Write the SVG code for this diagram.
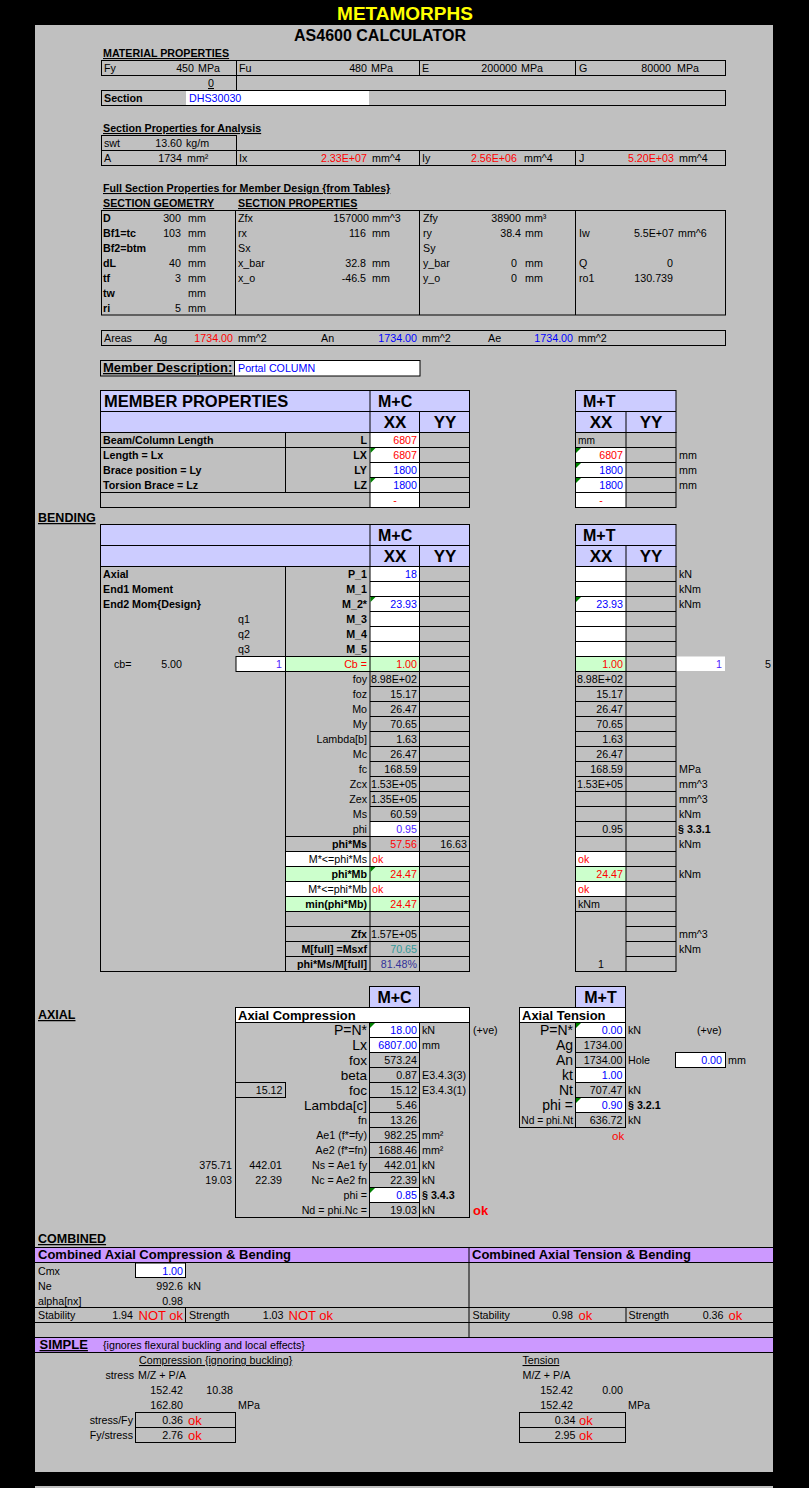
<svg xmlns="http://www.w3.org/2000/svg" width="809" height="1488" viewBox="0 0 809 1488">
<style>
.t{font-family:"Liberation Sans",Arial,sans-serif;font-size:10.7px;fill:#000}
.b{font-weight:bold}
.e{text-anchor:end}
.c{text-anchor:middle}
.u{text-decoration:underline}
.rd{fill:#f00}
.bl{fill:#00f}
.pu{fill:#4a1aff}
.hd{font-size:16px;font-weight:bold}
.lg{font-size:13.5px}
.ok{font-size:13px;fill:#f00}
.sm{font-size:10.2px}
.ln{stroke:#000;stroke-width:1;fill:none}
.bx{stroke:#000;stroke-width:1}
.nf{fill:none}
.lav{fill:#CCCCFF}
.grn{fill:#CCFFCC}
.wht{fill:#fff}
.pur{fill:#CC99FF}
</style>
<defs><path id="tri" d="M0 0h5L0 5z" fill="#008000"/></defs>
<rect width="809" height="1488" fill="#000"/>
<rect x="35" y="25" width="738" height="1447" fill="#C0C0C0"/>
<rect x="35" y="1486" width="738" height="2" fill="#C0C0C0"/>
<g id="title">
<text x="405" y="20" class="t b c" style="font-size:19px;fill:#FFFF00">METAMORPHS</text>
<text x="380" y="41" class="t b c" style="font-size:16px">AS4600 CALCULATOR</text>
</g>

<g id="material">
<rect x="101.5" y="60.5" width="624" height="15" class="bx nf"/>
<rect x="101.5" y="90.5" width="624" height="15" class="bx nf"/>
<rect x="186" y="91" width="183" height="14" class="wht"/>
<path class="ln" d="M236.5 60.5V90.5M419.5 60.5V75.5M575.5 60.5V75.5"/>
<g class="t">
<text x="103" y="57" class="b u">MATERIAL PROPERTIES</text>
<text x="104" y="72">Fy</text><text x="194" y="72" class="e">450</text><text x="198" y="72">MPa</text>
<text x="239" y="72">Fu</text><text x="367" y="72" class="e">480</text><text x="371" y="72">MPa</text>
<text x="422" y="72">E</text><text x="517" y="72" class="e">200000</text><text x="521" y="72">MPa</text>
<text x="579" y="72">G</text><text x="671" y="72" class="e">80000</text><text x="677" y="72">MPa</text>
<text x="211" y="87" class="c u">0</text>
<text x="104" y="102" class="b">Section</text>
<text x="189" y="102" class="bl">DHS30030</text>
</g>
</g>

<g id="analysis">
<rect x="101.5" y="135.5" width="135" height="15" class="bx nf"/>
<rect x="101.5" y="150.5" width="624" height="15" class="bx nf"/>
<path class="ln" d="M236.5 150.5V165.5M419.5 150.5V165.5M575.5 150.5V165.5"/>
<g class="t">
<text x="103" y="132" class="b u">Section Properties for Analysis</text>
<text x="104" y="147">swt</text><text x="182" y="147" class="e">13.60</text><text x="186" y="147">kg/m</text>
<text x="104" y="162">A</text><text x="182" y="162" class="e">1734</text><text x="187" y="162">mm²</text>
<text x="239" y="162">Ix</text><text x="367" y="162" class="e rd">2.33E+07</text><text x="372" y="162">mm^4</text>
<text x="422" y="162">Iy</text><text x="517" y="162" class="e rd">2.56E+06</text><text x="524" y="162">mm^4</text>
<text x="579" y="162">J</text><text x="674" y="162" class="e rd">5.20E+03</text><text x="679" y="162">mm^4</text>
</g>
</g>

<g id="fullsection">
<rect x="101.5" y="210.5" width="624" height="104.5" class="bx nf"/>
<path class="ln" d="M235.5 210.5V315M419.5 210.5V315M575.5 210.5V315"/>
<g class="t">
<text x="103" y="192" class="b u">Full Section Properties for Member Design {from Tables}</text>
<text x="103" y="207" class="b u">SECTION GEOMETRY</text>
<text x="238" y="207" class="b u">SECTION PROPERTIES</text>
<g class="b">
<text x="103" y="222">D</text><text x="103" y="237">Bf1=tc</text><text x="103" y="252">Bf2=btm</text><text x="103" y="267">dL</text><text x="103" y="282">tf</text><text x="103" y="297">tw</text><text x="103" y="312">ri</text>
</g>
<text x="181" y="222" class="e">300</text><text x="181" y="237" class="e">103</text><text x="181" y="267" class="e">40</text><text x="181" y="282" class="e">3</text><text x="181" y="312" class="e">5</text>
<text x="188" y="222">mm</text><text x="188" y="237">mm</text><text x="188" y="252">mm</text><text x="188" y="267">mm</text><text x="188" y="282">mm</text><text x="188" y="297">mm</text><text x="188" y="312">mm</text>
<text x="238" y="222">Zfx</text><text x="369" y="222" class="e">157000</text><text x="372" y="222">mm^3</text>
<text x="238" y="237">rx</text><text x="366" y="237" class="e">116</text><text x="372" y="237">mm</text>
<text x="238" y="252">Sx</text>
<text x="238" y="267">x_bar</text><text x="366" y="267" class="e">32.8</text><text x="372" y="267">mm</text>
<text x="238" y="282">x_o</text><text x="366" y="282" class="e">-46.5</text><text x="372" y="282">mm</text>
<text x="423" y="222">Zfy</text><text x="521" y="222" class="e">38900</text><text x="525" y="222">mm³</text>
<text x="423" y="237">ry</text><text x="521" y="237" class="e">38.4</text><text x="525" y="237">mm</text>
<text x="423" y="252">Sy</text>
<text x="423" y="267">y_bar</text><text x="517" y="267" class="e">0</text><text x="525" y="267">mm</text>
<text x="423" y="282">y_o</text><text x="517" y="282" class="e">0</text><text x="525" y="282">mm</text>
<text x="579" y="237">Iw</text><text x="674" y="237" class="e">5.5E+07</text><text x="678" y="237">mm^6</text>
<text x="579" y="267">Q</text><text x="673" y="267" class="e">0</text>
<text x="579" y="282">ro1</text><text x="673" y="282" class="e">130.739</text>
</g>
</g>

<g id="areas">
<rect x="101.5" y="330.5" width="624" height="15" class="bx nf"/>
<g class="t">
<text x="104" y="342">Areas</text><text x="154" y="342">Ag</text><text x="233" y="342" class="e rd">1734.00</text><text x="238" y="342">mm^2</text>
<text x="321" y="342">An</text><text x="417" y="342" class="e bl">1734.00</text><text x="422" y="342">mm^2</text>
<text x="488" y="342">Ae</text><text x="573" y="342" class="e bl">1734.00</text><text x="578" y="342">mm^2</text>
</g>
</g>

<g id="memberdesc">
<rect x="235" y="361" width="185" height="15" class="wht"/>
<rect x="100.5" y="360.5" width="319.5" height="15.5" class="bx nf"/>
<path class="ln" d="M234.5 360.5V376"/>
<text x="103" y="372" class="t b u" style="font-size:13px">Member Description:</text>
<text x="238" y="372" class="t bl">Portal COLUMN</text>
</g>

<g id="memberprops">
<rect x="100.5" y="390.5" width="369" height="42" class="lav bx"/>
<rect x="575.5" y="390.5" width="100.5" height="42" class="lav bx"/>
<rect x="370" y="432.5" width="49.5" height="75" class="wht"/>
<rect x="576" y="447.5" width="50" height="60" class="wht"/>
<rect x="100.5" y="432.5" width="369" height="75" class="bx nf"/>
<rect x="575.5" y="432.5" width="100.5" height="75" class="bx nf"/>
<path class="ln" d="M100.5 411.5H469.5M370 390.5V507.5M419.5 411.5V507.5M575.5 411.5H676M626 411.5V507.5M100.5 447.5H469.5M100.5 492.5H469.5M370 462.5H469.5M370 477.5H469.5M285.5 432.5V492.5M575.5 447.5H676M575.5 462.5H676M575.5 477.5H676M575.5 492.5H676"/>
<use href="#tri" x="370.5" y="448"/><use href="#tri" x="370.5" y="478"/>
<use href="#tri" x="576" y="448"/><use href="#tri" x="576" y="463"/><use href="#tri" x="576" y="478"/>
<g class="t">
<text x="104" y="407" class="b" style="font-size:16.5px">MEMBER PROPERTIES</text>
<text x="378" y="407" class="hd">M+C</text>
<text x="395" y="428" class="hd c" style="font-size:17px">XX</text><text x="445" y="428" class="hd c" style="font-size:17px">YY</text>
<text x="583" y="407" class="hd">M+T</text>
<text x="601" y="428" class="hd c" style="font-size:17px">XX</text><text x="651" y="428" class="hd c" style="font-size:17px">YY</text>
<g class="b">
<text x="103" y="444">Beam/Column Length</text><text x="103" y="459">Length = Lx</text><text x="103" y="474">Brace position = Ly</text><text x="103" y="489">Torsion Brace = Lz</text>
<text x="367" y="444" class="e">L</text><text x="367" y="459" class="e">LX</text><text x="367" y="474" class="e">LY</text><text x="367" y="489" class="e">LZ</text>
</g>
<text x="417" y="444" class="e rd">6807</text><text x="417" y="459" class="e rd">6807</text><text x="417" y="474" class="e bl">1800</text><text x="417" y="489" class="e bl">1800</text>
<text x="395" y="504" class="c rd">-</text>
<text x="578" y="444" class="sm">mm</text>
<text x="623" y="459" class="e rd">6807</text><text x="623" y="474" class="e bl">1800</text><text x="623" y="489" class="e bl">1800</text>
<text x="601" y="504" class="c rd">-</text>
<text x="679" y="459">mm</text><text x="679" y="474">mm</text><text x="679" y="489">mm</text>
</g>
</g>

<g id="bending">
<text x="38" y="522" class="t b u" style="font-size:12.5px">BENDING</text>
<rect x="100.5" y="524.5" width="369" height="42" class="lav bx"/>
<rect x="575.5" y="524.5" width="100.5" height="42" class="lav bx"/>
<rect x="370" y="566.5" width="49.5" height="90" class="wht"/>
<rect x="285.5" y="656.5" width="134" height="15" class="grn"/>
<rect x="370" y="821.5" width="49.5" height="15" class="wht"/>
<rect x="285.5" y="851.5" width="134" height="15" class="wht"/>
<rect x="285.5" y="866.5" width="134" height="15" class="grn"/>
<rect x="285.5" y="881.5" width="134" height="15" class="wht"/>
<rect x="285.5" y="896.5" width="134" height="15" class="grn"/>
<rect x="236" y="656.5" width="49.5" height="15" class="wht bx"/>
<rect x="575.5" y="566.5" width="50.5" height="90" class="wht"/>
<rect x="575.5" y="656.5" width="50.5" height="15" class="grn"/>
<rect x="575.5" y="851.5" width="50.5" height="15" class="wht"/>
<rect x="575.5" y="866.5" width="50.5" height="15" class="grn"/>
<rect x="575.5" y="881.5" width="50.5" height="15" class="wht"/>
<rect x="676" y="656.5" width="49" height="14.5" class="wht"/>
<rect x="100.5" y="566.5" width="369" height="405" class="bx nf"/>
<rect x="575.5" y="566.5" width="100.5" height="405" class="bx nf"/>
<path class="ln" d="M100.5 545.5H469.5M370 524.5V971.5M419.5 545.5V971.5M575.5 545.5H676M626 545.5V971.5M285.5 566.5V971.5M236 656.5H370M236 671.5H370
M370 581.5H469.5M370 596.5H469.5M370 611.5H469.5M370 626.5H469.5M370 641.5H469.5M370 656.5H469.5M370 671.5H469.5M370 686.5H469.5M370 701.5H469.5M370 716.5H469.5M370 731.5H469.5M370 746.5H469.5M370 761.5H469.5M370 776.5H469.5M370 791.5H469.5M370 806.5H469.5M370 821.5H469.5
M285.5 836.5H469.5M285.5 851.5H469.5M285.5 866.5H469.5M285.5 881.5H469.5M285.5 896.5H469.5M285.5 911.5H469.5M285.5 926.5H469.5M285.5 941.5H469.5M285.5 956.5H469.5
M575.5 581.5H676M575.5 596.5H676M575.5 611.5H676M575.5 626.5H676M575.5 641.5H676M575.5 656.5H676M575.5 671.5H676M575.5 686.5H676M575.5 701.5H676M575.5 716.5H676M575.5 731.5H676M575.5 746.5H676M575.5 761.5H676M575.5 776.5H676M575.5 791.5H676M575.5 806.5H676M575.5 821.5H676M575.5 836.5H676M575.5 851.5H676M575.5 866.5H676M575.5 881.5H676M575.5 896.5H676M575.5 911.5H676
M626 926.5H676M626 941.5H676M626 956.5H676"/>
<use href="#tri" x="370.5" y="597"/><use href="#tri" x="576" y="597"/><use href="#tri" x="370.5" y="867"/>
<g class="t">
<text x="378" y="541" class="hd">M+C</text>
<text x="395" y="562" class="hd c" style="font-size:17px">XX</text><text x="445" y="562" class="hd c" style="font-size:17px">YY</text>
<text x="583" y="541" class="hd">M+T</text>
<text x="601" y="562" class="hd c" style="font-size:17px">XX</text><text x="651" y="562" class="hd c" style="font-size:17px">YY</text>
<g class="b">
<text x="103" y="578">Axial</text><text x="103" y="593">End1 Moment</text><text x="103" y="608">End2 Mom{Design}</text>
<text x="367" y="578" class="e">P_1</text><text x="367" y="593" class="e">M_1</text><text x="367" y="608" class="e">M_2*</text>
<text x="367" y="623" class="e">M_3</text><text x="367" y="638" class="e">M_4</text><text x="367" y="653" class="e">M_5</text>
</g>
<text x="238" y="623">q1</text><text x="238" y="638">q2</text><text x="238" y="653">q3</text>
<text x="417" y="578" class="e bl">18</text>
<text x="417" y="608" class="e bl">23.93</text>
<text x="623" y="608" class="e bl">23.93</text>
<text x="679" y="578">kN</text><text x="679" y="593">kNm</text><text x="679" y="608">kNm</text>
<text x="114" y="668">cb=</text><text x="182" y="668" class="e">5.00</text>
<text x="282" y="668" class="e pu">1</text>
<text x="367" y="668" class="e rd">Cb =</text><text x="417" y="668" class="e rd">1.00</text>
<text x="623" y="668" class="e rd">1.00</text>
<text x="722" y="668" class="e pu">1</text><text x="771" y="668" class="e">5</text>
<text x="367" y="683" class="e">foy</text><text x="417" y="683" class="e">8.98E+02</text><text x="623" y="683" class="e">8.98E+02</text>
<text x="367" y="698" class="e">foz</text><text x="417" y="698" class="e">15.17</text><text x="623" y="698" class="e">15.17</text>
<text x="367" y="713" class="e">Mo</text><text x="417" y="713" class="e">26.47</text><text x="623" y="713" class="e">26.47</text>
<text x="367" y="728" class="e">My</text><text x="417" y="728" class="e">70.65</text><text x="623" y="728" class="e">70.65</text>
<text x="367" y="743" class="e">Lambda[b]</text><text x="417" y="743" class="e">1.63</text><text x="623" y="743" class="e">1.63</text>
<text x="367" y="758" class="e">Mc</text><text x="417" y="758" class="e">26.47</text><text x="623" y="758" class="e">26.47</text>
<text x="367" y="773" class="e">fc</text><text x="417" y="773" class="e">168.59</text><text x="623" y="773" class="e">168.59</text><text x="679" y="773">MPa</text>
<text x="367" y="788" class="e">Zcx</text><text x="417" y="788" class="e">1.53E+05</text><text x="623" y="788" class="e">1.53E+05</text><text x="679" y="788">mm^3</text>
<text x="367" y="803" class="e">Zex</text><text x="417" y="803" class="e">1.35E+05</text><text x="679" y="803">mm^3</text>
<text x="367" y="818" class="e">Ms</text><text x="417" y="818" class="e">60.59</text><text x="679" y="818">kNm</text>
<text x="367" y="833" class="e">phi</text><text x="417" y="833" class="e pu">0.95</text><text x="623" y="833" class="e">0.95</text><text x="678" y="833" class="b">§ 3.3.1</text>
<text x="367" y="848" class="e b">phi*Ms</text><text x="417" y="848" class="e rd">57.56</text><text x="467" y="848" class="e">16.63</text><text x="679" y="848">kNm</text>
<text x="367" y="863" class="e">M*&lt;=phi*Ms</text><text x="372" y="863" class="rd">ok</text><text x="578" y="863" class="rd">ok</text>
<text x="367" y="878" class="e b">phi*Mb</text><text x="417" y="878" class="e rd">24.47</text><text x="623" y="878" class="e rd">24.47</text><text x="679" y="878">kNm</text>
<text x="367" y="893" class="e">M*&lt;=phi*Mb</text><text x="372" y="893" class="rd">ok</text><text x="578" y="893" class="rd">ok</text>
<text x="367" y="908" class="e b">min(phi*Mb)</text><text x="417" y="908" class="e rd">24.47</text><text x="578" y="908">kNm</text>
<text x="367" y="938" class="e b">Zfx</text><text x="417" y="938" class="e">1.57E+05</text><text x="679" y="938">mm^3</text>
<text x="367" y="953" class="e b">M[full] =Msxf</text><text x="417" y="953" class="e" style="fill:#339999">70.65</text><text x="679" y="953">kNm</text>
<text x="367" y="968" class="e b">phi*Ms/M[full]</text><text x="417" y="968" class="e" style="fill:#333399">81.48%</text><text x="601" y="968" class="c">1</text>
</g>
</g>

<g id="axial-compression">
<text x="38" y="1019" class="t b u" style="font-size:12.5px">AXIAL</text>
<rect x="369.5" y="986.5" width="50" height="21" class="lav bx"/>
<rect x="235.5" y="1007.5" width="234" height="15" class="wht bx"/>
<rect x="370" y="1022.5" width="49.5" height="30" class="wht"/>
<rect x="370" y="1187.5" width="49.5" height="15" class="wht"/>
<rect x="235.5" y="1022.5" width="234" height="195" class="bx nf"/>
<rect x="235.5" y="1082.5" width="50" height="15" class="bx nf"/>
<path class="ln" d="M369.5 1022.5V1217.5M419.5 1022.5V1217.5M369.5 1037.5H419.5M369.5 1052.5H419.5M369.5 1067.5H419.5M369.5 1082.5H419.5M369.5 1097.5H419.5M369.5 1112.5H419.5M369.5 1127.5H419.5M369.5 1142.5H419.5M369.5 1157.5H419.5M369.5 1172.5H419.5M369.5 1187.5H419.5M369.5 1202.5H419.5"/>
<use href="#tri" x="370" y="1023"/><use href="#tri" x="370" y="1188"/>
<g class="t">
<text x="394.5" y="1003" class="hd c">M+C</text>
<text x="238" y="1019.5" class="b" style="font-size:13px">Axial Compression</text>
<text x="367" y="1035" class="e" style="font-size:14px">P=N*</text>
<text x="367" y="1050" class="e" style="font-size:14px">Lx</text>
<text x="367" y="1065" class="e lg">fox</text>
<text x="367" y="1080" class="e lg">beta</text>
<text x="367" y="1095" class="e lg">foc</text>
<text x="367" y="1110" class="e lg">Lambda[c]</text>
<text x="367" y="1124" class="e">fn</text>
<text x="367" y="1139" class="e">Ae1 (f*=fy)</text>
<text x="367" y="1154" class="e">Ae2 (f*=fn)</text>
<text x="367" y="1169" class="e">Ns = Ae1 fy</text>
<text x="367" y="1184" class="e">Nc = Ae2 fn</text>
<text x="367" y="1199" class="e">phi =</text>
<text x="367" y="1214" class="e">Nd = phi.Nc =</text>
<text x="417" y="1034" class="e bl">18.00</text>
<text x="417" y="1049" class="e bl">6807.00</text>
<text x="417" y="1064" class="e">573.24</text>
<text x="417" y="1079" class="e">0.87</text>
<text x="417" y="1094" class="e">15.12</text>
<text x="417" y="1109" class="e">5.46</text>
<text x="417" y="1124" class="e">13.26</text>
<text x="417" y="1139" class="e">982.25</text>
<text x="417" y="1154" class="e">1688.46</text>
<text x="417" y="1169" class="e">442.01</text>
<text x="417" y="1184" class="e">22.39</text>
<text x="417" y="1199" class="e bl">0.85</text>
<text x="417" y="1214" class="e">19.03</text>
<text x="422" y="1034">kN</text><text x="422" y="1049">mm</text>
<text x="422" y="1079">E3.4.3(3)</text><text x="422" y="1094">E3.4.3(1)</text>
<text x="422" y="1139">mm²</text><text x="422" y="1154">mm²</text>
<text x="422" y="1169">kN</text><text x="422" y="1184">kN</text>
<text x="422" y="1199" class="b">§ 3.4.3</text><text x="422" y="1214">kN</text>
<text x="473" y="1034">(+ve)</text>
<text x="473" y="1215" class="b ok">ok</text>
<text x="282.5" y="1094" class="e">15.12</text>
<text x="232" y="1169" class="e">375.71</text><text x="282" y="1169" class="e">442.01</text>
<text x="232" y="1184" class="e">19.03</text><text x="282" y="1184" class="e">22.39</text>
</g>
</g>

<g id="axial-tension">
<rect x="575.5" y="986.5" width="50" height="21" class="lav bx"/>
<rect x="519.5" y="1007.5" width="106" height="15" class="wht bx"/>
<rect x="576" y="1022.5" width="49.5" height="15" class="wht"/>
<rect x="576" y="1067.5" width="49.5" height="15" class="wht"/>
<rect x="576" y="1097.5" width="49.5" height="15" class="wht"/>
<rect x="519.5" y="1022.5" width="106" height="105" class="bx nf"/>
<rect x="675.5" y="1052.5" width="50" height="15" class="wht bx"/>
<path class="ln" d="M575.5 1022.5V1127.5M575.5 1037.5H625.5M575.5 1052.5H625.5M575.5 1067.5H625.5M575.5 1082.5H625.5M575.5 1097.5H625.5M575.5 1112.5H625.5"/>
<use href="#tri" x="576" y="1023"/><use href="#tri" x="576" y="1098"/>
<g class="t">
<text x="600.5" y="1003" class="hd c">M+T</text>
<text x="522" y="1019.5" class="b" style="font-size:13px">Axial Tension</text>
<text x="573" y="1035" class="e" style="font-size:14px">P=N*</text>
<text x="573" y="1050" class="e" style="font-size:14px">Ag</text>
<text x="573" y="1065" class="e" style="font-size:14px">An</text>
<text x="573" y="1080" class="e" style="font-size:14px">kt</text>
<text x="573" y="1095" class="e" style="font-size:14px">Nt</text>
<text x="573" y="1110" class="e" style="font-size:14px">phi =</text>
<text x="573" y="1124" class="e" style="font-size:10.3px">Nd = phi.Nt</text>
<text x="622.5" y="1034" class="e bl">0.00</text>
<text x="622.5" y="1049" class="e">1734.00</text>
<text x="622.5" y="1064" class="e">1734.00</text>
<text x="622.5" y="1079" class="e bl">1.00</text>
<text x="622.5" y="1094" class="e">707.47</text>
<text x="622.5" y="1109" class="e bl">0.90</text>
<text x="622.5" y="1124" class="e">636.72</text>
<text x="628" y="1034">kN</text><text x="628" y="1064">Hole</text><text x="628" y="1094">kN</text>
<text x="628" y="1109" class="b">§ 3.2.1</text><text x="628" y="1124">kN</text>
<text x="697" y="1034">(+ve)</text>
<text x="722" y="1064" class="e bl">0.00</text><text x="728" y="1064">mm</text>
<text x="612" y="1140" class="rd" style="font-size:11.5px">ok</text>
</g>
</g>

<g id="combined">
<text x="38" y="1243" class="t b u" style="font-size:12.5px">COMBINED</text>
<rect x="35" y="1247.5" width="738" height="15" class="pur"/>
<rect x="135.5" y="1263" width="50" height="14.5" class="wht bx"/>
<path class="ln" d="M35 1247.5H773M35 1262.5H773M469 1247.5V1337.5M35 1307.5H773M35 1322.5H773M185.5 1307.5V1322.5M626 1307.5V1322.5"/>
<g class="t">
<text x="38" y="1259" class="b" style="font-size:13px">Combined Axial Compression &amp; Bending</text>
<text x="472" y="1259" class="b" style="font-size:13px">Combined Axial Tension &amp; Bending</text>
<text x="38" y="1274.5">Cmx</text><text x="183" y="1274.5" class="e bl">1.00</text>
<text x="38" y="1289.5">Ne</text><text x="183" y="1289.5" class="e">992.6</text><text x="188" y="1289.5">kN</text>
<text x="38" y="1304.5">alpha[nx]</text><text x="183" y="1304.5" class="e">0.98</text>
<text x="38" y="1319">Stability</text><text x="133" y="1319" class="e">1.94</text><text x="138.5" y="1320" class="ok">NOT ok</text>
<text x="189" y="1319">Strength</text><text x="283.5" y="1319" class="e">1.03</text><text x="288.5" y="1320" class="ok">NOT ok</text>
<text x="472.5" y="1319">Stability</text><text x="573" y="1319" class="e">0.98</text><text x="578.5" y="1320" class="ok">ok</text>
<text x="628.5" y="1319">Strength</text><text x="723.5" y="1319" class="e">0.36</text><text x="728.5" y="1320" class="ok">ok</text>
</g>
</g>

<g id="simple">
<rect x="35" y="1337.5" width="738" height="15" class="pur"/>
<path class="ln" d="M35 1337.5H773M35 1352.5H773"/>
<rect x="135.5" y="1412.5" width="100" height="15" class="bx nf"/>
<rect x="135.5" y="1427.5" width="100" height="15" class="bx nf"/>
<rect x="519.5" y="1412.5" width="106" height="15" class="bx nf"/>
<rect x="519.5" y="1427.5" width="106" height="15" class="bx nf"/>
<g class="t">
<text x="39.5" y="1349" class="b u" style="font-size:13px">SIMPLE</text>
<text x="103" y="1349">{ignores flexural buckling and local effects}</text>
<text x="139" y="1364" class="u">Compression {ignoring buckling}</text>
<text x="522.5" y="1364" class="u">Tension</text>
<text x="134" y="1379" class="e">stress</text><text x="138" y="1379">M/Z + P/A</text>
<text x="522.5" y="1379">M/Z + P/A</text>
<text x="183" y="1394" class="e">152.42</text><text x="233" y="1394" class="e">10.38</text>
<text x="573" y="1394" class="e">152.42</text><text x="623" y="1394" class="e">0.00</text>
<text x="183" y="1409" class="e">162.80</text><text x="238" y="1409">MPa</text>
<text x="573" y="1409" class="e">152.42</text><text x="628" y="1409">MPa</text>
<text x="133" y="1424" class="e">stress/Fy</text><text x="183" y="1424" class="e">0.36</text><text x="188" y="1425" class="ok">ok</text>
<text x="575.5" y="1424" class="e">0.34</text><text x="579" y="1425" class="ok">ok</text>
<text x="133" y="1439" class="e">Fy/stress</text><text x="183" y="1439" class="e">2.76</text><text x="188" y="1440" class="ok">ok</text>
<text x="575.5" y="1439" class="e">2.95</text><text x="579" y="1440" class="ok">ok</text>
</g>
</g>
</svg>
